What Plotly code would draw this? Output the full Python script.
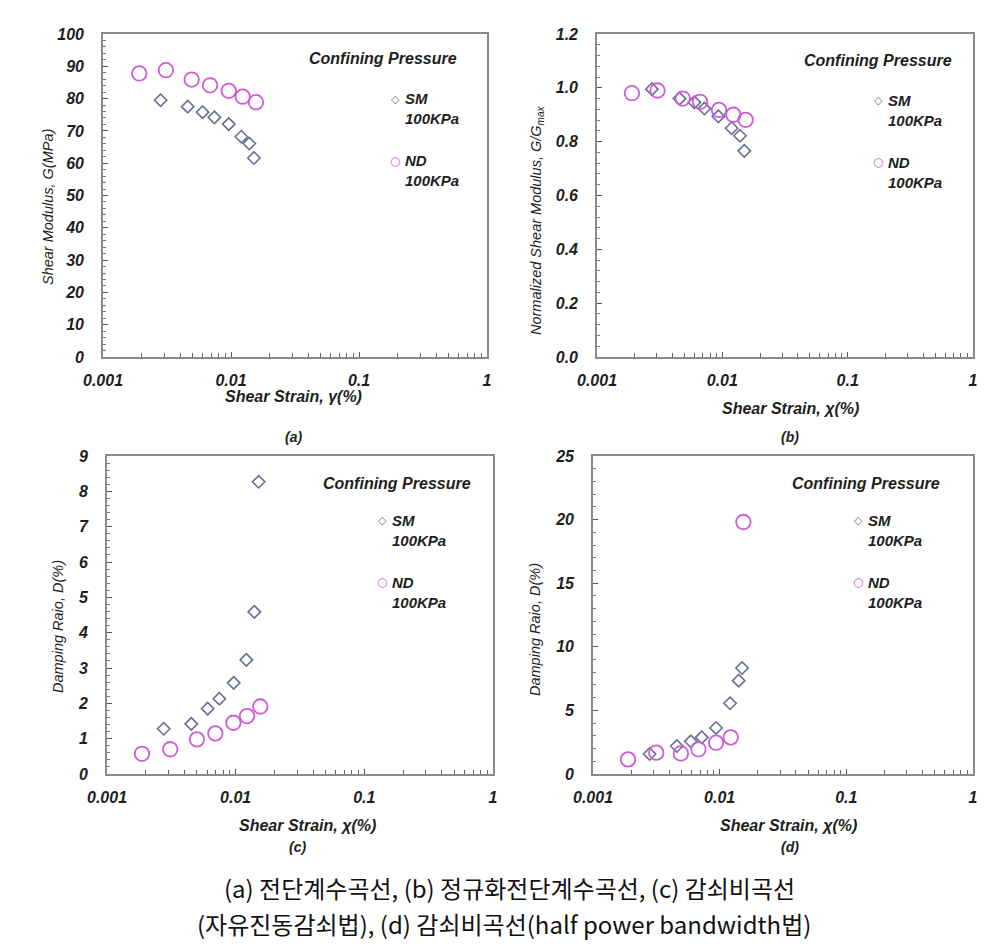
import plotly.graph_objects as go

W, H = 1008, 948

# ---------------- data ----------------
# (a) Shear modulus G (MPa)
a_sm_strain = [0.00282, 0.00459, 0.0060, 0.00741, 0.0096, 0.01205, 0.0139, 0.0151]
a_sm_G = [79.5, 77.5, 75.8, 74.2, 72.1, 68.2, 66.1, 61.6]
a_nd_strain = [0.00192, 0.0031, 0.00493, 0.00686, 0.0096, 0.01234, 0.01567]
a_nd_G = [87.8, 88.8, 85.9, 84.1, 82.4, 80.6, 78.9]

# (b) Normalized shear modulus G/Gmax
b_sm_strain = [0.00274, 0.00455, 0.00598, 0.00719, 0.0093, 0.01186, 0.01383, 0.01496]
b_sm_ratio = [0.995, 0.960, 0.946, 0.923, 0.894, 0.850, 0.822, 0.766]
b_nd_strain = [0.0019, 0.00304, 0.00483, 0.00664, 0.0094, 0.01224, 0.01534]
b_nd_ratio = [0.980, 0.990, 0.960, 0.948, 0.918, 0.900, 0.881]

# (c) Damping ratio D (%) - free vibration decay
c_sm_strain = [0.00276, 0.00452, 0.00606, 0.00747, 0.00965, 0.0121, 0.01396, 0.0151]
c_sm_D = [1.28, 1.42, 1.85, 2.13, 2.58, 3.23, 4.59, 8.27]
c_nd_strain = [0.00187, 0.0031, 0.0050, 0.00695, 0.0096, 0.01225, 0.01555]
c_nd_D = [0.57, 0.70, 0.98, 1.15, 1.45, 1.64, 1.91]

# (d) Damping ratio D (%) - half power bandwidth
d_sm_strain = [0.0028, 0.00459, 0.00592, 0.00722, 0.00937, 0.01208, 0.01413, 0.01503]
d_sm_D = [1.57, 2.20, 2.57, 2.88, 3.62, 5.56, 7.34, 8.33]
d_nd_strain = [0.00189, 0.00316, 0.00494, 0.0068, 0.00937, 0.01223, 0.01539]
d_nd_D = [1.15, 1.68, 1.62, 1.94, 2.46, 2.88, 19.81]

series_names = ["SM<br>100KPa", "ND<br>100KPa"]
x_tickvals = [0.001, 0.01, 0.1, 1]
x_ticktext = ["0.001", "0.01", "0.1", "1"]

SM_COLOR = "#6a6d96"
ND_COLOR = "#d05ad6"
FONT = "Liberation Sans, Arial, sans-serif"
TXT = "#1e1e1e"


def px(x, y):
    return x / W, 1 - y / H


panels = [
    # key, x-domain px, y-domain px, yrange, dtick, minor dtick, fmt, data
    ("", (103, 487), (34, 357), [0, 100], 10, 2, "d",
     (a_sm_strain, a_sm_G, a_nd_strain, a_nd_G)),
    ("2", (597, 973), (34, 357), [0, 1.2], 0.2, 0.04, ".1f",
     (b_sm_strain, b_sm_ratio, b_nd_strain, b_nd_ratio)),
    ("3", (107, 493), (456, 774), [0, 9], 1, 0.2, "d",
     (c_sm_strain, c_sm_D, c_nd_strain, c_nd_D)),
    ("4", (593, 973), (456, 774), [0, 25], 5, 1, "d",
     (d_sm_strain, d_sm_D, d_nd_strain, d_nd_D)),
]

minor_x = [m * 10 ** e for e in (-3, -2, -1) for m in range(2, 10)]

fig = go.Figure()
layout = dict(
    width=W, height=H,
    margin=dict(l=0, r=0, t=0, b=0, autoexpand=False),
    paper_bgcolor="white", plot_bgcolor="white",
    showlegend=False,
    font=dict(family=FONT, color=TXT),
)

for i, (k, xd, yd, yr, dt, mdt, fmt, data) in enumerate(panels):
    xs, ys, xn, yn = data
    fig.add_trace(go.Scatter(
        x=xs, y=ys, mode="markers", name=series_names[0],
        marker=dict(symbol="diamond-open", size=9.5, color=SM_COLOR,
                    line=dict(width=1.6, color=SM_COLOR)),
        xaxis="x" + k, yaxis="y" + k))
    fig.add_trace(go.Scatter(
        x=xn, y=yn, mode="markers", name=series_names[1],
        marker=dict(symbol="circle-open", size=14.5, color=ND_COLOR,
                    line=dict(width=1.8, color=ND_COLOR)),
        xaxis="x" + k, yaxis="y" + k))

    layout["xaxis" + k] = dict(
        type="log", range=[-3, 0], domain=[xd[0] / W, xd[1] / W],
        anchor="y" + k, tickvals=x_tickvals, ticktext=x_ticktext,
        ticks="inside", ticklen=5, tickcolor="#555",
        minor=dict(tickvals=minor_x, ticks="inside", ticklen=4, tickcolor="#666"),
        showgrid=False, zeroline=False, automargin=False,
        showline=True, mirror=True, linecolor="#8a8a8a", linewidth=1.6,
        tickfont=dict(family=FONT, size=16, weight="bold", style="italic", color=TXT),
        ticklabelstandoff=8,
    )
    layout["yaxis" + k] = dict(
        range=yr, domain=[1 - yd[1] / H, 1 - yd[0] / H], anchor="x" + k,
        dtick=dt, tickformat=fmt,
        ticks="inside", ticklen=5, tickcolor="#555",
        minor=dict(dtick=mdt, ticks="inside", ticklen=3, tickcolor="#777"),
        showgrid=False, zeroline=False, automargin=False,
        showline=True, mirror=True, linecolor="#8a8a8a", linewidth=1.6,
        tickfont=dict(family=FONT, size=16, weight="bold", style="italic", color=TXT),
        ticklabelstandoff=14,
    )

annotations = []


def ann(text, x, y, size=15, angle=0, bold=True, italic=True, family=FONT,
        color=TXT, xanchor="center", align="center"):
    fx, fy = px(x, y)
    annotations.append(dict(
        text=text, x=fx, y=fy, xref="paper", yref="paper",
        xanchor=xanchor, yanchor="middle", showarrow=False, textangle=angle,
        align=align,
        font=dict(family=family, size=size, color=color,
                  weight="bold" if bold else "normal",
                  style="italic" if italic else "normal")))


# Confining Pressure headers
for (cx, cy) in [(383, 59), (878, 60), (397, 483), (866, 483)]:
    ann("Confining Pressure", cx, cy, size=16)

# legend blocks (symbol glyph + two-line label)
legend_xy = [(395, 99), (878, 100), (382, 520), (858, 520)]
for (gx, gy) in legend_xy:
    ann("◇", gx, gy, size=11, bold=False, italic=False,
        family="DejaVu Sans", color=SM_COLOR)
    ann(series_names[0], gx + 8, gy + 10, size=15, xanchor="left", align="left")
    ann("○", gx, gy + 62, size=12, bold=False, italic=False,
        family="DejaVu Sans", color=ND_COLOR)
    ann(series_names[1], gx + 8, gy + 72, size=15, xanchor="left", align="left")

# x titles
ann("Shear Strain, γ(%)", 293, 397, size=16)
ann("Shear Strain, χ(%)", 790, 408, size=16)
ann("Shear Strain, χ(%)", 307, 825, size=16)
ann("Shear Strain, χ(%)", 788, 825, size=16)

# y titles
ann("Shear Modulus, G(MPa)", 48, 207, size=14.5, angle=-90, bold=False)
ann("Normalized Shear Modulus, G/G<sub>max</sub>", 537, 220, size=14.5, angle=-90, bold=False)
ann("Damping Raio, D(%)", 58, 627, size=14.5, angle=-90, bold=False)
ann("Damping Raio, D(%)", 535, 630, size=14.5, angle=-90, bold=False)

# panel labels
ann("(a)", 293, 437, size=14)
ann("(b)", 790, 437, size=14)
ann("(c)", 297, 847, size=14)
ann("(d)", 790, 847, size=14)

# Korean caption
KFONT = "Noto Sans CJK KR, sans-serif"
ann("(a) 전단계수곡선, (b) 정규화전단계수곡선, (c) 감쇠비곡선", 509, 887,
    size=24, bold=False, italic=False, family=KFONT, color="#111")
ann("(자유진동감쇠법), (d) 감쇠비곡선(half power bandwidth법)", 504, 923,
    size=24, bold=False, italic=False, family=KFONT, color="#111")

layout["annotations"] = annotations
fig.update_layout(**layout)
fig.write_html(
    "out.html",
    config={"displayModeBar": False},
    post_script="document.body.style.margin='0px';document.body.style.overflow='hidden';",
)
